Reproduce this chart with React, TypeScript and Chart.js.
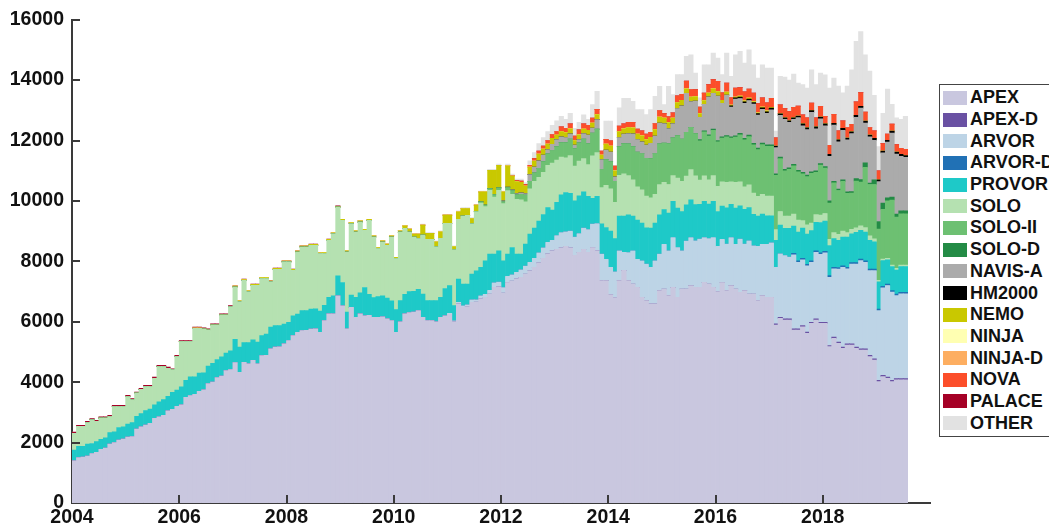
import React, { useEffect, useRef } from 'react';
import { Chart, registerables } from 'chart.js';

Chart.register(...registerables);

const FONT = "'Liberation Sans', Arial, Helvetica, sans-serif";

const YEARS = [2004, 2005, 2006, 2007, 2008, 2009, 2010, 2011, 2012, 2013, 2014, 2015, 2016, 2017, 2018, 2019];
const MONTHS = ['01', '02', '03', '04', '05', '06', '07', '08', '09', '10', '11', '12'];
const CATEGORIES = YEARS.flatMap((y) => MONTHS.map((m) => `${y}-${m}`));
const X_TICKS = [2004, 2006, 2008, 2010, 2012, 2014, 2016, 2018];
const Y_TICKS = [0, 2000, 4000, 6000, 8000, 10000, 12000, 14000, 16000];

const Z = [0, 0, 0, 0, 0, 0, 0, 0, 0, 0, 0, 0];
const Z7 = [0, 0, 0, 0, 0, 0, 0];

// monthly values, Jan 2004 .. Jul 2019 (one row per year)
const APEX = [
  1400, 1500, 1520, 1550, 1640, 1680, 1780, 1820, 1950, 2000, 2080, 2120,
  2180, 2200, 2450, 2520, 2580, 2640, 2800, 2850, 2900, 3050, 3100, 3200,
  3250, 3500, 3560, 3600, 3700, 3750, 3950, 4000, 4150, 4200, 4380, 4420,
  4650, 4330, 4660, 4610, 4720, 4610, 4880, 4890, 5100, 5160, 5170, 5270,
  5380, 5540, 5650, 5710, 5720, 5760, 5770, 5650, 6040, 6260, 6260, 6860,
  6530, 5770, 6480, 6150, 6260, 6200, 6210, 6150, 6150, 6160, 6100, 6040,
  5650, 6000, 6260, 6300, 6320, 6370, 6150, 6040, 6040, 6000, 6150, 6200,
  6250, 6000, 6590, 6480, 6500, 6645, 6650, 6760, 6810, 6920, 7140, 7160,
  6950, 7300, 7350, 7420, 7470, 7580, 7690, 7800, 7950, 8100, 8250, 8350,
  8400, 8450, 8500, 8450, 8200, 8300, 8400, 8300, 8460, 8350, 7360, 7360,
  6900, 6800, 7360, 7700, 7360, 7250, 7140, 6810, 6700, 6590, 6590, 7030,
  7085, 6865, 7140, 6810, 7085, 7085, 7195, 7140, 7140, 7305, 7250, 7140,
  7000, 7300, 7030, 7195, 7085, 6975, 7030, 6920, 6920, 6700, 6865, 6810,
  6810, 5890, 6110, 6055, 6055, 5725, 5725, 5835, 5615, 5945, 6055, 5945,
  5945, 5175, 5450, 5285, 5120, 5230, 5230, 5120, 5065, 5065, 4845, 4735,
  4020, 4185, 4130, 4020, 4075, 4075, 4075,
];

const APEX_D = [
  ...Z, ...Z, ...Z, ...Z, ...Z, ...Z, ...Z, ...Z, ...Z, ...Z, ...Z, ...Z, ...Z,
  0, 40, 40, 40, 40, 40, 40, 40, 40, 40, 40, 40,
  40, 40, 40, 40, 40, 40, 40, 40, 40, 40, 40, 40,
  40, 40, 40, 40, 40, 40, 40,
];

const ARVOR = [
  ...Z, ...Z, ...Z, ...Z, ...Z, ...Z, ...Z,
  30, 30, 50, 50, 60, 80, 80, 100, 100, 120, 150, 150,
  180, 200, 200, 220, 250, 260, 280, 300, 330, 350, 380, 350,
  450, 500, 480, 550, 600, 620, 700, 750, 770, 900, 880, 710,
  900, 850, 990, 600, 930, 1100, 930, 1210, 1210, 1210, 1430, 1210,
  1480, 1480, 1650, 1650, 1260, 1590, 1590, 1540, 1600, 1480, 1500, 1650,
  1500, 1430, 1540, 1590, 1480, 1760, 1540, 1760, 1590, 1800, 1700, 1750,
  1800, 1870, 2100, 2100, 2050, 2450, 2200, 2175, 2200, 1980, 2200, 2250,
  2300, 2260, 2260, 2420, 2640, 2480, 2640, 2750, 2920, 2860, 2810, 2920,
  2310, 2900, 3030, 2920, 2750, 2810, 2810,
];

const ARVOR_D = [
  ...Z, ...Z, ...Z, ...Z, ...Z, ...Z, ...Z, ...Z, ...Z, ...Z, ...Z, ...Z, ...Z,
  0, 0, 0, 0, 0, 50, 50, 50, 50, 50, 50, 50,
  50, 50, 50, 50, 50, 50, 50, 50, 50, 50, 50, 50,
  50, 50, 50, 50, 50, 50, 50,
];

const PROVOR = [
  350, 380, 360, 400, 330, 350, 330, 340, 380, 360, 420, 400,
  430, 460, 420, 440, 480, 470, 450, 500, 520, 480, 560, 540,
  600, 560, 620, 580, 600, 560, 580, 620, 600, 640, 580, 620,
  770, 830, 650, 700, 680, 720, 660, 700, 720, 710, 700, 650,
  600, 660, 605, 660, 650, 660, 660, 700, 500, 550, 600, 660,
  770, 550, 400, 660, 700, 935, 700, 650, 680, 700, 680, 650,
  750, 700, 650, 700, 690, 700, 770, 660, 660, 700, 660, 900,
  915, 505, 775, 720, 690, 855, 960, 940, 1110, 1200, 950, 1040,
  890, 740, 910, 600, 520, 730, 930, 1000, 1050, 1100, 1150, 1000,
  1100, 1250, 1300, 1250, 1200, 1250, 1200, 1100, 860, 900, 1000, 1050,
  1200, 1100, 1150, 1200, 1250, 1150, 1300, 1250, 1200, 1300, 1250, 1300,
  1150, 1250, 1200, 1300, 1300, 1200, 1250, 1200, 1150, 1200, 1150, 1200,
  1150, 1100, 1200, 1100, 1200, 1100, 1150, 1100, 1050, 1000, 1000, 950,
  900, 900, 950, 900, 950, 900, 950, 1000, 1000, 1000, 950, 1000,
  1000, 1000, 950, 900, 950, 1000, 950, 1000, 950, 950, 950, 900,
  900, 850, 800, 800, 800, 850, 850,
];

const SOLO = [
  560, 655, 655, 710, 785, 670, 700, 650, 530, 835, 695, 675,
  915, 755, 765, 800, 795, 745, 880, 1165, 1095, 930, 745, 1105,
  1490, 1280, 1160, 1600, 1480, 1450, 1195, 1270, 1140, 1380, 1260, 1455,
  1730, 1500, 2060, 1680, 1810, 1880, 1890, 1840, 1500, 1865, 1865, 2060,
  2000, 1505, 2055, 2105, 2105, 2110, 2100, 1905, 1720, 1885, 2055, 2274,
  2054, 1990, 2364, 2159, 2340, 1889, 2444, 2005, 1590, 1780, 1750, 2115,
  1690, 2270, 2185, 1965, 1790, 1680, 1950, 2025, 2025, 1780, 1950, 2160,
  2065, 1850, 1975, 2250, 2270, 1660, 1950, 2130, 1790, 2110, 1890, 2000,
  1890, 2100, 1760, 1810, 1800, 1400, 1500, 1550, 1450, 1400, 1400, 1550,
  1400, 1250, 1150, 1250, 1150, 1150, 1100, 1050, 1400, 1450, 1200, 1400,
  1400, 1200, 1350, 1400, 1300, 1200, 1100, 1100, 1050, 1000, 950, 1000,
  900, 950, 850, 1000, 1000, 950, 1000, 950, 800, 850, 800, 850,
  830, 800, 850, 750, 850, 800, 750, 750, 700, 650, 650, 650,
  650, 350, 450, 400, 400, 400, 400, 250, 300, 250, 250, 250,
  250, 200, 200, 200, 200, 150, 150, 150, 150, 150, 150, 100,
  50, 50, 50, 50, 50, 50, 50,
];

const SOLO_II = [
  ...Z, ...Z, ...Z, ...Z, ...Z, ...Z, ...Z,
  0, 0, 0, 0, 0, 0, 20, 40, 50, 60, 80, 80,
  60, 100, 120, 150, 180, 220, 250, 280, 300, 350, 380, 420,
  450, 480, 500, 550, 580, 600, 650, 700, 760, 780, 600, 850,
  900, 700, 950, 1000, 1050, 1100, 1150, 1200, 1250, 1300, 1350, 1350,
  1300, 1350, 1250, 1400, 1400, 1450, 1400, 1400, 1300, 1450, 1450, 1500,
  1480, 1450, 1500, 1450, 1500, 1550, 1550, 1600, 1600, 1550, 1650, 1650,
  1650, 1800, 1750, 1500, 1550, 1600, 1600, 1550, 1600, 1650, 1400, 1650,
  1500, 1200, 1650, 1450, 1650, 1300, 1200, 1550, 1450, 2000, 1700, 1800,
  1700, 1650, 1900, 2150, 1700, 1700, 1700,
];

const SOLO_D = [
  ...Z, ...Z, ...Z, ...Z, ...Z, ...Z, ...Z, ...Z, ...Z, ...Z, ...Z,
  0, 0, 0, 0, 0, 0, 0, 0, 40, 40, 40, 40,
  40, 40, 40, 40, 40, 50, 50, 50, 50, 50, 50, 50,
  50, 50, 50, 50, 50, 50, 50, 50, 50, 50, 50, 50,
  50, 80, 50, 50, 50, 50, 50, 80, 80, 150, 50, 150,
  250, 200, 100, 100, 100, 100, 100,
];

const NAVIS_A = [
  ...Z, ...Z, ...Z, ...Z, ...Z, ...Z, ...Z, ...Z,
  30, 20, 30, 40, 50, 50, 220, 190, 250, 220, 140, 200,
  230, 190, 170, 170, 120, 110, 180, 280, 160, 310, 330, 310,
  320, 150, 300, 310, 340, 420, 415, 385, 440, 505, 575, 685,
  645, 500, 470, 900, 1105, 1290, 855, 1075, 740, 875, 1260, 1185,
  1470, 1110, 1345, 980, 1215, 1155, 1165, 1145, 1300, 1090, 1115, 1040,
  1160, 865, 1385, 1660, 1510, 1485, 1745, 1540, 1505, 1965, 1395, 1485,
  1355, 1475, 1860, 1565, 1640, 1720, 1920, 2030, 2370, 1315, 1525, 1315,
  1320, 1665, 1850, 2120, 1990, 1805, 1770,
];

const HM2000 = [
  ...Z, ...Z, ...Z, ...Z, ...Z, ...Z, ...Z, ...Z, ...Z, ...Z, ...Z, ...Z,
  0, 0, 0, 40, 40, 50, 50, 50, 50, 50, 50, 50,
  50, 50, 50, 50, 50, 50, 50, 60, 60, 60, 60, 60,
  60, 60, 60, 60, 60, 60, 60, 60, 60, 60, 60, 60,
  60, 60, 60, 60, 60, 60, 60,
];

const NEMO = [
  ...Z, ...Z,
  10, 10, 10, 10, 10, 10, 10, 10, 10, 10, 10, 10,
  30, 30, 30, 30, 30, 30, 30, 30, 30, 30, 30, 30,
  30, 30, 30, 30, 30, 30, 30, 30, 30, 30, 30, 30,
  40, 40, 40, 40, 40, 40, 40, 40, 40, 40, 40, 40,
  40, 40, 80, 100, 100, 150, 330, 200, 200, 170, 220, 270,
  270, 100, 250, 250, 230, 180, 200, 330, 440, 600, 800, 750,
  300, 700, 450, 400, 350, 250, 250, 200, 220, 200, 180, 200,
  150, 180, 160, 170, 150, 160, 150, 160, 165, 170, 150, 200,
  200, 200, 200, 180, 200, 200, 180, 200, 180, 200, 220, 200,
  180, 200, 180, 200, 180, 150, 150, 150, 120, 120, 120, 150,
  150, 100, 100, 30, 30, 30, 30, 30, 30, 30, 30, 30,
  30, 0, 0, 0, 0, 0, 0, 0, 0, 0, 0, 0,
  ...Z,
  ...Z7,
];

const NINJA = [
  ...Z, ...Z, ...Z, ...Z, ...Z, ...Z, ...Z, ...Z, ...Z, ...Z, ...Z, ...Z, ...Z, ...Z, ...Z,
  ...Z7,
];

const NINJA_D = [
  ...Z, ...Z, ...Z, ...Z, ...Z, ...Z, ...Z, ...Z, ...Z, ...Z, ...Z, ...Z, ...Z, ...Z, ...Z,
  ...Z7,
];

const NOVA = [
  ...Z, ...Z, ...Z, ...Z, ...Z, ...Z, ...Z, ...Z,
  0, 20, 20, 30, 40, 50, 60, 80, 100, 100, 120, 130,
  120, 150, 140, 160, 150, 160, 170, 160, 165, 170, 130, 160,
  170, 150, 180, 160, 170, 180, 160, 170, 180, 170, 200, 220,
  150, 200, 180, 220, 200, 250, 250, 230, 220, 250, 280, 300,
  340, 250, 300, 250, 300, 280, 300, 300, 280, 300, 300, 270,
  300, 275, 300, 300, 300, 350, 330, 300, 330, 250, 300, 350,
  250, 300, 300, 300, 250, 350, 250, 450, 450, 300, 250, 250,
  300, 250, 200, 235, 250, 200, 200,
];

const PALACE = [
  40, 40, 40, 40, 40, 40, 40, 40, 40, 40, 40, 40,
  40, 40, 40, 40, 40, 40, 40, 40, 40, 40, 40, 40,
  30, 30, 30, 30, 30, 30, 30, 30, 30, 30, 30, 30,
  10, 10, 10, 10, 10, 10, 10, 10, 10, 10, 10, 10,
  10, 10, 10, 10, 10, 10, 10, 10, 10, 10, 10, 10,
  ...Z, ...Z, ...Z, ...Z, ...Z, ...Z, ...Z, ...Z, ...Z, ...Z,
  ...Z7,
];

const OTHER = [
  ...Z, ...Z, ...Z, ...Z, ...Z, ...Z,
  0, 0, 0, 0, 0, 0, 30, 30, 30, 30, 30, 30,
  30, 30, 30, 30, 30, 30, 30, 30, 30, 40, 40, 40,
  30, 40, 50, 50, 60, 70, 150, 200, 250, 280, 300, 300,
  350, 350, 300, 350, 250, 250, 300, 200, 450, 600, 0, 600,
  650, 0, 600, 850, 800, 700, 650, 700, 650, 750, 900, 800,
  300, 1000, 600, 700, 650, 820, 1150, 550, 300, 940, 660, 880,
  770, 600, 990, 700, 1100, 1200, 950, 1300, 940, 850, 1100, 1150,
  1000, 220, 940, 1045, 1045, 1100, 760, 1000, 990, 1100, 1100, 1100,
  1375, 1900, 1195, 1480, 930, 1370, 1800, 2000, 2025, 1900, 1870, 1180,
  800, 1000, 1490, 655, 885, 960, 1095,
];

const SERIES = [
  { name: 'APEX', data: APEX, color: '#c9c7df' },
  { name: 'APEX-D', data: APEX_D, color: '#6a51a3' },
  { name: 'ARVOR', data: ARVOR, color: '#bdd4e6' },
  { name: 'ARVOR-D', data: ARVOR_D, color: '#2171b5' },
  { name: 'PROVOR', data: PROVOR, color: '#1ec9c8' },
  { name: 'SOLO', data: SOLO, color: '#b5e1b1' },
  { name: 'SOLO-II', data: SOLO_II, color: '#6dc072' },
  { name: 'SOLO-D', data: SOLO_D, color: '#238b45' },
  { name: 'NAVIS-A', data: NAVIS_A, color: '#ababab' },
  { name: 'HM2000', data: HM2000, color: '#000000' },
  { name: 'NEMO', data: NEMO, color: '#c9c800' },
  { name: 'NINJA', data: NINJA, color: '#ffffb2' },
  { name: 'NINJA-D', data: NINJA_D, color: '#fdae61' },
  { name: 'NOVA', data: NOVA, color: '#fc4e2a' },
  { name: 'PALACE', data: PALACE, color: '#a50026' },
  { name: 'OTHER', data: OTHER, color: '#e2e2e2' },
];

const AXIS_COLOR = '#3a3a3a';

const innerTicks = {
  id: 'innerTicks',
  afterDraw(chart: any) {
    const { ctx, chartArea } = chart;
    const ys = chart.scales.y;
    const xs = chart.scales.x2;
    ctx.save();
    ctx.strokeStyle = AXIS_COLOR;
    ctx.lineWidth = 2;
    Y_TICKS.forEach((v) => {
      if (v === 0) return;
      const py = Math.round(ys.getPixelForValue(v));
      ctx.beginPath();
      ctx.moveTo(chartArea.left, py);
      ctx.lineTo(chartArea.left + 8, py);
      ctx.stroke();
    });
    X_TICKS.forEach((v) => {
      if (v === X_TICKS[0]) return;
      const px = Math.round(xs.getPixelForValue(v));
      ctx.beginPath();
      ctx.moveTo(px, chartArea.bottom);
      ctx.lineTo(px, chartArea.bottom - 8);
      ctx.stroke();
    });
    ctx.restore();
  },
};

function Legend() {
  return (
    <div
      style={{
        position: 'absolute',
        left: 939,
        top: 84,
        width: 130,
        border: '1px solid #444',
        background: '#fff',
        paddingTop: 2,
        paddingBottom: 2,
        paddingLeft: 3,
        boxSizing: 'border-box',
      }}
    >
      {SERIES.map((s) => (
        <div key={s.name} style={{ display: 'flex', alignItems: 'center', height: 21.7 }}>
          <span style={{ width: 24, height: 14, background: s.color, display: 'inline-block', flex: '0 0 auto' }} />
          <span
            style={{
              marginLeft: 3,
              fontFamily: FONT,
              fontWeight: 'bold',
              fontSize: 18,
              color: '#111',
              whiteSpace: 'nowrap',
              lineHeight: '21px',
            }}
          >
            {s.name}
          </span>
        </div>
      ))}
    </div>
  );
}

export default function App() {
  const canvasRef = useRef<HTMLCanvasElement | null>(null);

  useEffect(() => {
    if (!canvasRef.current) return;
    const tickFont = { family: FONT, size: 19.5, weight: 'bold' as const };
    const chart = new Chart(canvasRef.current, {
      type: 'bar',
      data: {
        labels: CATEGORIES,
        datasets: SERIES.map((s) => ({
          label: s.name,
          data: s.data,
          backgroundColor: s.color,
          borderWidth: 0,
          barPercentage: 1,
          categoryPercentage: 1,
          xAxisID: 'x',
          yAxisID: 'y',
          stack: 'floats',
        })),
      },
      options: {
        animation: false,
        responsive: false,
        devicePixelRatio: 1,
        layout: { padding: { left: 0, right: 119, top: 18, bottom: 0 } },
        plugins: { legend: { display: false }, tooltip: { enabled: false } },
        scales: {
          x: { type: 'category', stacked: true, display: false, offset: true },
          x2: {
            type: 'linear',
            position: 'bottom',
            min: 2004,
            max: 2020,
            offset: false,
            bounds: 'data',
            z: 1,
            grid: { display: false, drawTicks: false, offset: false },
            border: { display: true, color: AXIS_COLOR, width: 2 },
            afterBuildTicks: (s: any) => {
              s.ticks = X_TICKS.map((v) => ({ value: v }));
            },
            afterFit: (s: any) => {
              s.height = 29;
            },
            ticks: {
              color: '#111',
              font: tickFont,
              padding: 3,
              autoSkip: false,
              maxRotation: 0,
              callback: (v: any) => String(v),
            },
          },
          y: {
            type: 'linear',
            stacked: true,
            min: 0,
            max: 16000,
            z: 1,
            grid: { display: false, drawTicks: false },
            border: { display: true, color: AXIS_COLOR, width: 2 },
            afterBuildTicks: (s: any) => {
              s.ticks = Y_TICKS.map((v) => ({ value: v }));
            },
            afterFit: (s: any) => {
              s.width = 72;
            },
            ticks: {
              color: '#111',
              font: tickFont,
              padding: 8,
              callback: (v: any) => String(v),
            },
          },
        },
      } as any,
      plugins: [innerTicks],
    });
    return () => chart.destroy();
  }, []);

  return (
    <div
      style={{
        position: 'fixed',
        left: 0,
        top: 0,
        width: 1049,
        height: 532,
        overflow: 'hidden',
        background: '#fff',
      }}
    >
      <canvas ref={canvasRef} width={1049} height={532} style={{ display: 'block', width: 1049, height: 532 }} />
      <Legend />
    </div>
  );
}
